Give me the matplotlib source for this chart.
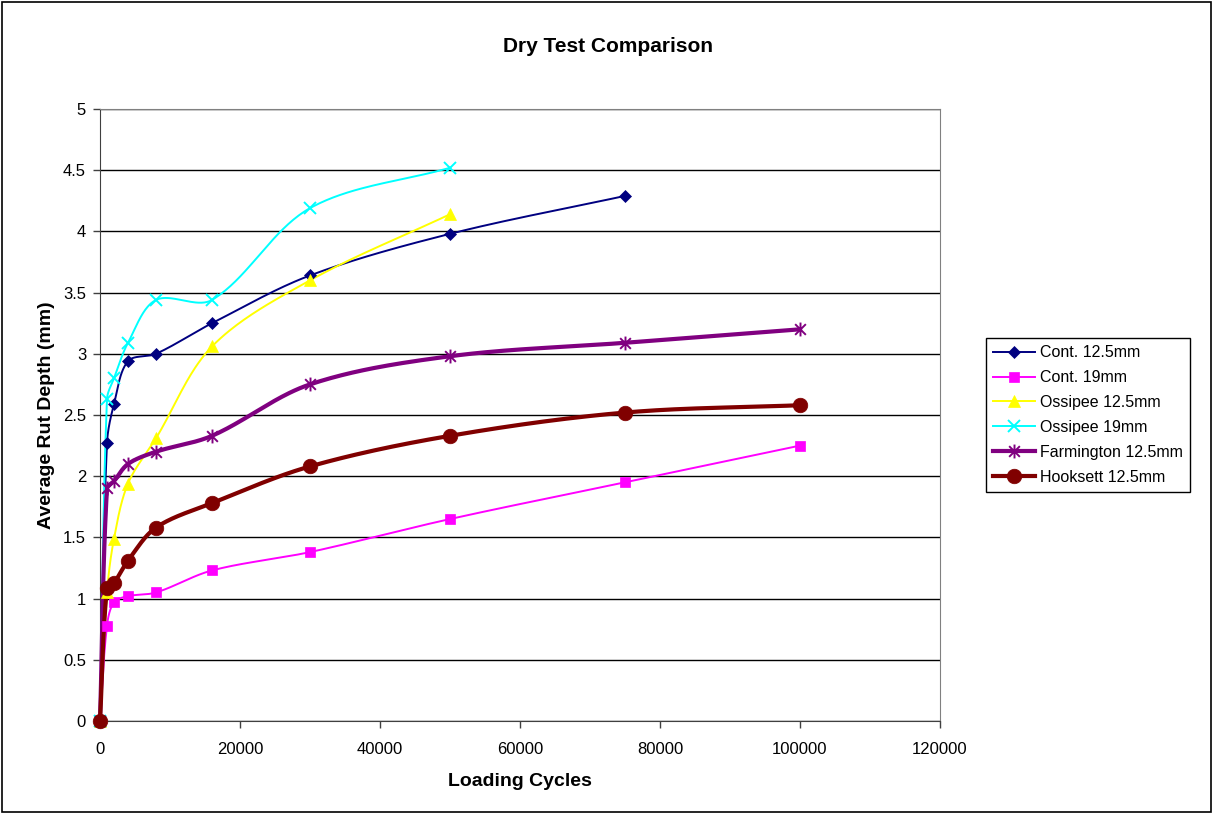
import numpy as np
import matplotlib
matplotlib.use("Agg")
import matplotlib.pyplot as plt
from matplotlib.path import Path
from matplotlib.ticker import FuncFormatter, MultipleLocator

plt.rcParams['font.family'] = ['Liberation Sans', 'DejaVu Sans']

# loading cycles at which rut depth was measured
cycles = [0, 1000, 2000, 4000, 8000, 16000, 30000, 50000, 75000, 100000]

cont_125 = [0, 2.27, 2.59, 2.94, 3.00, 3.25, 3.64, 3.98, 4.29]
cont_19 = [0, 0.78, 0.97, 1.02, 1.05, 1.23, 1.38, 1.65, 1.95, 2.25]
ossipee_125 = [0, 1.05, 1.49, 1.94, 2.31, 3.06, 3.60, 4.14]
ossipee_19 = [0, 2.63, 2.80, 3.09, 3.44, 3.44, 4.19, 4.52]
farmington_125 = [0, 1.90, 1.96, 2.10, 2.20, 2.33, 2.75, 2.98, 3.09, 3.20]
hooksett_125 = [0, 1.09, 1.13, 1.31, 1.58, 1.78, 2.08, 2.33, 2.52, 2.58]

labels = ['Cont. 12.5mm', 'Cont. 19mm', 'Ossipee 12.5mm', 'Ossipee 19mm',
          'Farmington 12.5mm', 'Hooksett 12.5mm']

XMAX, YMAX = 120000, 5

# excel style star: an x with a vertical bar through it
star = Path([(-1, -1), (1, 1), (-1, 1), (1, -1), (0, -1.3), (0, 1.3)],
            [Path.MOVETO, Path.LINETO, Path.MOVETO, Path.LINETO, Path.MOVETO, Path.LINETO])

styles = [
    dict(color='#000080', lw=1.4, marker='D', ms=6, mfc='#000080', mec='#000080', mew=0.5),
    dict(color='#FF00FF', lw=1.4, marker='s', ms=7, mfc='#FF00FF', mec='#FF00FF', mew=0.5),
    dict(color='#FFFF00', lw=1.4, marker='^', ms=8, mfc='#FFFF00', mec='#FFFF00', mew=0.5),
    dict(color='#00FFFF', lw=1.4, marker='x', ms=8, mec='#00FFFF', mew=1.4),
    dict(color='#800080', lw=3, marker=star, ms=10, mfc='none', mec='#800080', mew=1.4),
    dict(color='#800000', lw=3, marker='o', ms=10.5, mfc='#800000', mec='#800000', mew=0.5),
]


def smooth(xs, ys, n=40):
    # bezier "smoothed line": tangents weighted by neighbouring segment lengths,
    # worked out in axis-proportional units so the curve doesn't overshoot
    px = np.asarray(xs, float) / XMAX * 840
    py = np.asarray(ys, float) / YMAX * 612
    P = np.column_stack([px, py])
    Pe = np.vstack([P[0], P, P[-1]])
    out = [P[0]]
    t = np.linspace(0, 1, n)[1:, None]
    for i in range(len(P) - 1):
        a, p0, p3, b = Pe[i], Pe[i + 1], Pe[i + 2], Pe[i + 3]
        d0 = np.linalg.norm(p0 - a)
        d1 = np.linalg.norm(p3 - p0)
        d2 = np.linalg.norm(b - p3)
        c1 = p0 + (p3 - a) * (d1 / (d0 + d1) if d0 + d1 else 0) / 3
        c2 = p3 - (b - p0) * (d1 / (d1 + d2) if d1 + d2 else 0) / 3
        seg = ((1 - t) ** 3) * p0 + 3 * ((1 - t) ** 2) * t * c1 + 3 * (1 - t) * t ** 2 * c2 + t ** 3 * p3
        out.extend(seg)
    out = np.array(out)
    return out[:, 0] / 840 * XMAX, out[:, 1] / 612 * YMAX


fig = plt.figure(figsize=(12.15, 8.14), dpi=100)
ax = fig.add_axes([100 / 1215, 1 - 721 / 814, 840 / 1215, 612 / 814])

series = [cont_125, cont_19, ossipee_125, ossipee_19, farmington_125, hooksett_125]
handles = []
for ys, lab, st in zip(series, labels, styles):
    xs = cycles[:len(ys)]
    sx, sy = smooth(xs, ys)
    ax.plot(sx, sy, color=st['color'], lw=st['lw'], zorder=3, clip_on=False)
    mk = {k: v for k, v in st.items() if k not in ('color', 'lw')}
    ax.plot(xs, ys, ls='none', zorder=4, clip_on=False, **mk)
    handles.append(plt.Line2D([], [], color=st['color'], lw=st['lw'], **mk))

ax.set_xlim(0, XMAX)
ax.set_ylim(0, YMAX)
ax.xaxis.set_major_locator(MultipleLocator(20000))
ax.yaxis.set_major_locator(MultipleLocator(0.5))
ax.yaxis.set_major_formatter(FuncFormatter(lambda v, p: '%g' % v))
ax.xaxis.set_major_formatter(FuncFormatter(lambda v, p: '%d' % v))
ax.grid(axis='y', color='black', lw=1)
ax.set_axisbelow(True)
for s in ('top', 'right'):
    ax.spines[s].set_color('#808080')
for s in ('left', 'bottom'):
    ax.spines[s].set_color('#404040')
ax.tick_params(direction='out', length=5, width=1, color='#404040', labelsize=12)
ax.tick_params(axis='x', pad=10)
ax.tick_params(axis='y', pad=5)

ax.set_xlabel('Loading Cycles', fontsize=14, fontweight='bold', labelpad=12)
ax.set_ylabel('Average Rut Depth (mm)', fontsize=14, fontweight='bold', labelpad=6)
fig.text(608 / 1215, 1 - 47 / 814, 'Dry Test Comparison', ha='center', va='center',
         fontsize=15, fontweight='bold')

leg = fig.legend(handles, labels, loc='center left', bbox_to_anchor=(986 / 1215, 1 - 415 / 814),
                 fancybox=False, edgecolor='black', fontsize=11.5, handlelength=2.6,
                 borderpad=0.45, labelspacing=0.62, handletextpad=0.3, borderaxespad=0,
                 framealpha=1)
leg.get_frame().set_linewidth(1)

# outer chart border
fig.patches.append(plt.Rectangle((0.002, 0.002), 0.995, 0.995, transform=fig.transFigure,
                                 fill=False, edgecolor='black', lw=1.2))

fig.savefig('out.png', dpi=100)
